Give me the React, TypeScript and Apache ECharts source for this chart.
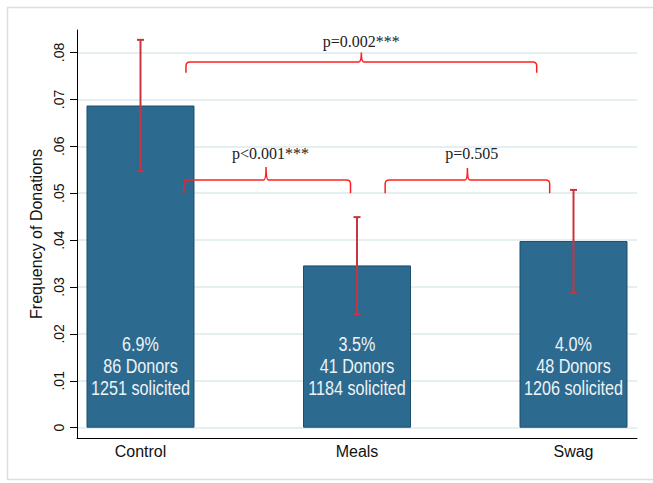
import React, { useEffect, useRef } from "react";
import * as echarts from "echarts";

const categories = ["Control", "Meals", "Swag"];
const categoryPos = [1, 2, 3];
const frequency = [0.0687, 0.0346, 0.0398];
const ciLow = [0.0547, 0.0242, 0.0288];
const ciHigh = [0.0827, 0.0449, 0.0507];
const pctLabels = ["6.9%", "3.5%", "4.0%"];
const donors = [86, 41, 48];
const solicited = [1251, 1184, 1206];
const yTicks = [0, 0.01, 0.02, 0.03, 0.04, 0.05, 0.06, 0.07, 0.08];

const bracketFrom = [1.21, 1.2, 2.13];
const bracketTo = [2.83, 1.97, 2.89];
const bracketMid = [2.02, 1.58, 2.51];
const bracketLevel = [0.078, 0.0528, 0.0528];
const bracketEnd = [0.0757, 0.05, 0.05];
const bracketPeak = [0.08, 0.0556, 0.0554];
const pLabels = ["p=0.002***", "p<0.001***", "p=0.505"];
const pLabelX = [2.02, 1.6, 2.53];
const pLabelY = [0.0823, 0.0585, 0.0585];

const SANS = "'Liberation Sans', Arial, sans-serif";
const SERIF = "'Liberation Serif', 'Times New Roman', serif";

export default function App() {
  const ref = useRef<HTMLDivElement>(null);
  useEffect(() => {
    if (!ref.current) return;
    const chart = echarts.init(ref.current, null, { renderer: "svg" });
    const option: any = {
      animation: false,
      backgroundColor: "#ffffff",
      grid: { left: 77, right: 16, top: 30, bottom: 45, containLabel: false },
      graphic: [
        {
          type: "rect",
          shape: { x: 7.5, y: 7.5, width: 700, height: 472 },
          style: { fill: "none", stroke: "#dedede", lineWidth: 1.5 },
          silent: true,
          z: -10,
        },
      ],
      xAxis: {
        type: "value",
        min: 0.7067,
        max: 3.2933,
        axisLine: { show: true, onZero: false, lineStyle: { color: "#000", width: 1 } },
        axisTick: { show: false },
        splitLine: { show: false },
        axisLabel: {
          customValues: categoryPos,
          formatter: (v: number) => categories[categoryPos.indexOf(Math.round(v))] || "",
          fontSize: 16,
          fontFamily: SANS,
          color: "#111",
          margin: 5,
        },
      },
      yAxis: {
        type: "value",
        min: -0.0022,
        max: 0.0848,
        name: "Frequency of Donations",
        nameLocation: "middle",
        nameGap: 28,
        nameTextStyle: { fontSize: 16, fontFamily: SANS, color: "#111" },
        axisLine: { show: true, lineStyle: { color: "#000", width: 1 } },
        axisTick: { show: true, customValues: yTicks, length: 7, lineStyle: { color: "#000" } },
        axisLabel: {
          customValues: yTicks,
          rotate: 90,
          margin: 11,
          fontSize: 14,
          fontFamily: SANS,
          color: "#111",
          formatter: (v: number) => (Math.abs(v) < 1e-9 ? "0" : v.toFixed(2).replace(/^0/, "")),
        },
        splitLine: { show: true, lineStyle: { color: "#dde9ec", width: 1.5 } },
      },
      series: [
        {
          type: "bar",
          data: categoryPos.map((x, i) => [x, frequency[i]]),
          barWidth: 108,
          itemStyle: { color: "#2d6a8f", borderColor: "#1d4f70", borderWidth: 1 },
          z: 2,
        },
        {
          type: "custom",
          data: categoryPos.map((x, i) => [x, 0]),
          encode: { x: 0, y: 1 },
          z: 3,
          renderItem: (params: any, api: any) => {
            const i = params.dataIndex;
            const base = api.coord([api.value(0), api.value(1)]);
            return {
              type: "text",
              x: base[0],
              y: base[1] - 61,
              scaleX: 0.83,
              style: {
                text: `${pctLabels[i]}\n${donors[i]} Donors\n${solicited[i]} solicited`,
                font: `19.5px ${SANS}`,
                lineHeight: 22,
                fill: "#eef3f6",
                textAlign: "center",
                textVerticalAlign: "middle",
              },
            };
          },
        },
        {
          type: "custom",
          data: categoryPos.map((x, i) => [x, ciLow[i], ciHigh[i]]),
          encode: { x: 0, y: [1, 2] },
          z: 4,
          renderItem: (params: any, api: any) => {
            const x = api.value(0);
            const lo = api.coord([x, api.value(1)]);
            const hi = api.coord([x, api.value(2)]);
            const hw = 3.5;
            const st = { stroke: "#c8343f", lineWidth: 2 };
            return {
              type: "group",
              children: [
                { type: "line", shape: { x1: lo[0], y1: lo[1], x2: hi[0], y2: hi[1] }, style: st },
                { type: "line", shape: { x1: lo[0] - hw, y1: lo[1], x2: lo[0] + hw, y2: lo[1] }, style: st },
                { type: "line", shape: { x1: hi[0] - hw, y1: hi[1], x2: hi[0] + hw, y2: hi[1] }, style: st },
              ],
            };
          },
        },
        {
          type: "custom",
          data: bracketFrom.map((f, i) => [f, bracketTo[i], bracketMid[i], bracketLevel[i], bracketEnd[i], bracketPeak[i]]),
          encode: { x: [0, 1, 2], y: [3, 4, 5] },
          z: 5,
          renderItem: (params: any, api: any) => {
            const a = api.coord([api.value(0), api.value(3)]);
            const b = api.coord([api.value(1), api.value(3)]);
            const m = api.coord([api.value(2), api.value(5)]);
            const e = api.coord([api.value(0), api.value(4)]);
            const yL = a[1];
            const yE = e[1];
            const yP = m[1];
            const r = 4;
            const s = 2.5;
            const d =
              `M${a[0]} ${yE} L${a[0]} ${yL + r} Q${a[0]} ${yL} ${a[0] + r} ${yL} ` +
              `L${m[0] - s} ${yL} Q${m[0]} ${yL} ${m[0]} ${yP} Q${m[0]} ${yL} ${m[0] + s} ${yL} ` +
              `L${b[0] - r} ${yL} Q${b[0]} ${yL} ${b[0]} ${yL + r} L${b[0]} ${yE}`;
            return {
              type: "path",
              shape: { pathData: d },
              style: { stroke: "#ff1f1f", fill: "none", lineWidth: 1.5 },
            };
          },
        },
        {
          type: "custom",
          data: pLabelX.map((x, i) => [x, pLabelY[i]]),
          encode: { x: 0, y: 1 },
          z: 6,
          renderItem: (params: any, api: any) => {
            const p = api.coord([api.value(0), api.value(1)]);
            return {
              type: "text",
              x: p[0],
              y: p[1],
              style: {
                text: pLabels[params.dataIndex],
                font: `16px ${SERIF}`,
                fill: "#222",
                textAlign: "center",
                textVerticalAlign: "middle",
              },
            };
          },
        },
      ],
    };
    chart.setOption(option);
    return () => chart.dispose();
  }, []);
  return (
    <div
      ref={ref}
      style={{ position: "absolute", left: 0, top: 0, width: 653, height: 483 }}
    />
  );
}
